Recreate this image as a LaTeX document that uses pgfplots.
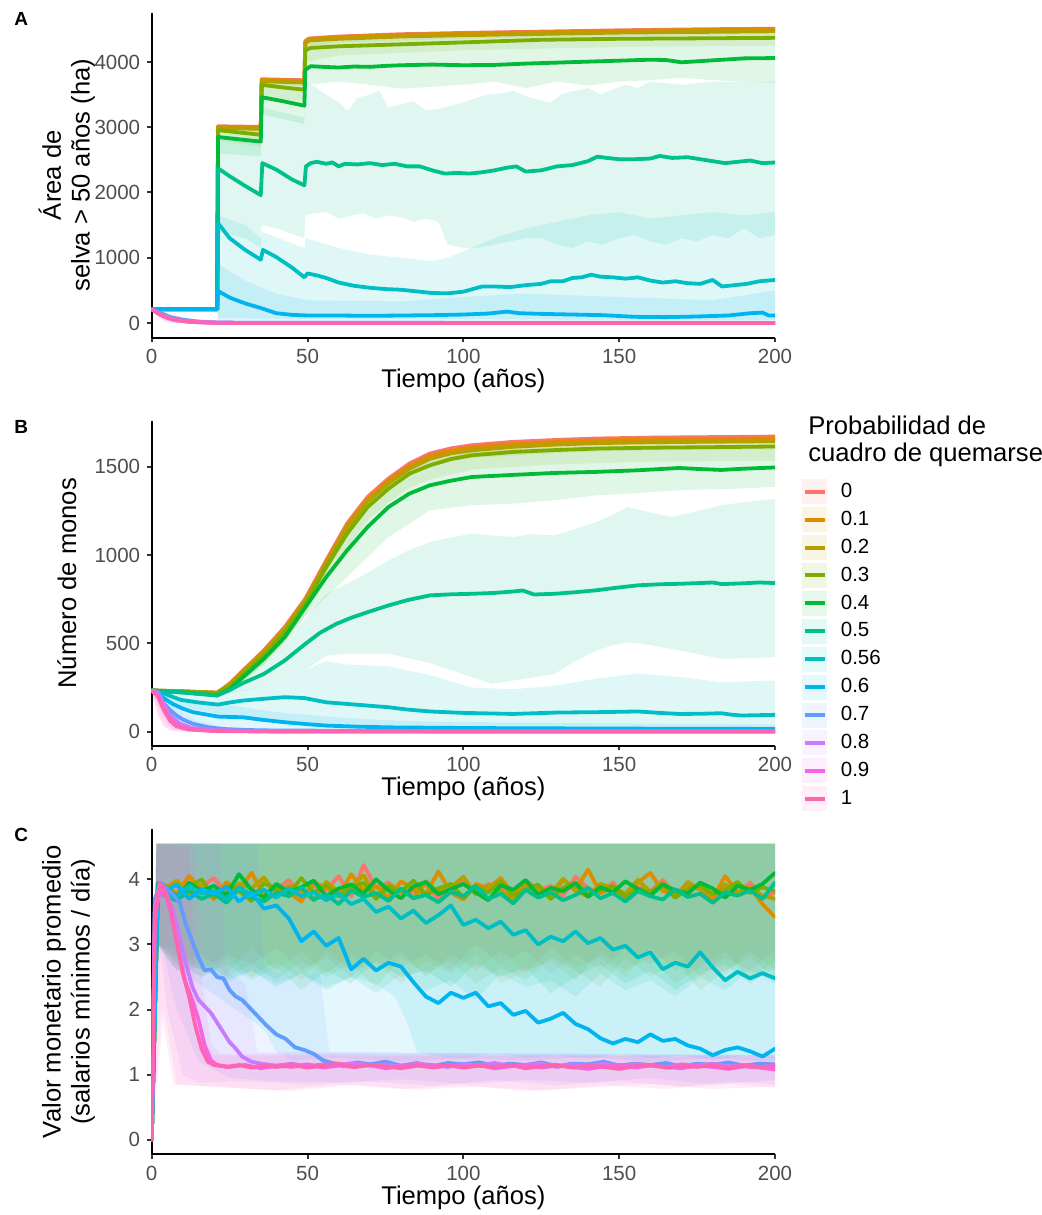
\documentclass[border=0pt]{standalone}
\usepackage{pgfplots}
\pgfplotsset{compat=1.18}
\usepackage{fontspec}
\setmainfont{Liberation Sans}
\definecolor{c0}{HTML}{F8766D}
\definecolor{c1}{HTML}{DE8C00}
\definecolor{c2}{HTML}{B79F00}
\definecolor{c3}{HTML}{7CAE00}
\definecolor{c4}{HTML}{00BA38}
\definecolor{c5}{HTML}{00C08B}
\definecolor{c6}{HTML}{00BFC4}
\definecolor{c7}{HTML}{00B4F0}
\definecolor{c8}{HTML}{619CFF}
\definecolor{c9}{HTML}{C77CFF}
\definecolor{c10}{HTML}{F564E3}
\definecolor{c11}{HTML}{FF64B0}
\definecolor{labgray}{HTML}{4D4D4D}
\definecolor{tickgray}{HTML}{333333}
\pgfplotsset{
  panel/.style={
    scale only axis, width=311.65pt, height=162.5pt, anchor=south west,
    xmin=0, xmax=200, xtick={0,50,100,150,200},
    axis x line*=bottom, axis y line*=left,
    axis line style={-, line width=1pt, black},
    tick align=outside, major tick length=2.25pt,
    every tick/.style={line width=1pt, tickgray},
    tick label style={font=\fontsize{10.25}{12}\selectfont, text=labgray},
    /pgf/number format/assume math mode=true,
    /pgf/number format/1000 sep={},
    scaled ticks=false,
    xlabel={Tiempo (años)},
    xlabel style={at={(axis description cs:0.5,0)}, anchor=center, yshift=-21.8pt, font=\fontsize{12.8}{14}\selectfont, text=black},
  },
  rib/.style={fill=#1, fill opacity=0.12, draw=none, forget plot},
  ribc/.style={fill=#1, fill opacity=0.11, draw=none, forget plot},
  ln/.style={draw=#1, line width=1.9pt, line join=round, line cap=round, forget plot, mark=none},
  legkey/.style={legend image code/.code={
    \path[draw=none, fill=none] (0pt,-6.98pt) rectangle (12.5pt,6.98pt);
    \fill[#1!10, draw=none] (0pt,-6.25pt) rectangle (12.5pt,6.25pt);
    \draw[#1, line width=2pt, fill=none] (1.2pt,0pt) -- (11.3pt,0pt);
  }},
}
\begin{document}
\begin{tikzpicture}
\useasboundingbox (0,0) rectangle (520.5pt,-607.5pt);
% ================= Panel A =================
\begin{axis}[panel, at={(75.85pt,-168.85pt)}, ymin=-225, ymax=4755, ytick={0,1000,2000,3000,4000}]
\addplot[rib=c0] coordinates {(0,222)(21,222)(21.3,3030)(35,3020)(35.3,3750)(49,3735)(49.3,4335)(60,4405)(100,4460)(150,4500)(200,4525)(200,4480)(150,4460)(100,4420)(60,4360)(49.3,4290)(49,3690)(35.3,3705)(35,2980)(21.3,2990)(21,205)(0,205)};
\addplot[rib=c1] coordinates {(0,222)(21,222)(21.3,3020)(35,3010)(35.3,3740)(49,3725)(49.3,4325)(60,4395)(100,4450)(150,4490)(200,4515)(200,4460)(150,4440)(100,4400)(60,4340)(49.3,4270)(49,3670)(35.3,3690)(35,2960)(21.3,2975)(21,205)(0,205)};
\addplot[rib=c2] coordinates {(0,222)(21,222)(21.3,3005)(35,2995)(35.3,3725)(49,3705)(49.3,4305)(60,4375)(100,4430)(150,4470)(200,4490)(200,4420)(150,4400)(100,4360)(60,4300)(49.3,4230)(49,3630)(35.3,3650)(35,2920)(21.3,2940)(21,205)(0,205)};
\addplot[rib=c3] coordinates {(0,222)(21,222)(21.3,2990)(35,2975)(35.3,3710)(49,3690)(49.3,4290)(60,4350)(100,4400)(150,4430)(200,4440)(200,4250)(150,4230)(100,4180)(60,4100)(49.3,4000)(49,3400)(35.3,3450)(35,2700)(21.3,2800)(21,200)(0,205)};
\addplot[rib=c4] coordinates {(0,222)(21,222)(21.3,2980)(35,2965)(35.3,3700)(49,3680)(49.3,4280)(60,4330)(100,4380)(150,4420)(200,4430)(200,3680)(190,3700)(180,3720)(170,3760)(160,3720)(150,3700)(140,3640)(130,3700)(120,3600)(110,3700)(100,3650)(90,3620)(80,3590)(70,3650)(60,3700)(49.3,3650)(49,3050)(35.3,3200)(35,2550)(21.3,2600)(21,200)(0,205)};
\addplot[rib=c5] coordinates {(0,222)(21,222)(21.3,2850)(35,2750)(35.3,3300)(49,3150)(49.3,3700)(53,3600)(56,3500)(60,3380)(63,3250)(66,3450)(70,3500)(73,3560)(76,3300)(80,3350)(84,3400)(88,3260)(92,3280)(96,3330)(100,3380)(104,3450)(108,3500)(112,3520)(116,3560)(120,3480)(124,3420)(128,3380)(132,3520)(136,3560)(140,3600)(144,3500)(148,3580)(152,3650)(156,3600)(160,3700)(170,3650)(180,3700)(190,3700)(200,3700)(200,1350)(195,1300)(190,1450)(185,1300)(180,1350)(175,1250)(170,1300)(165,1200)(160,1250)(155,1350)(150,1300)(145,1200)(140,1250)(135,1150)(130,1200)(125,1300)(120,1300)(115,1250)(110,1200)(105,1150)(100,1150)(95,1200)(92,1550)(88,1600)(84,1550)(80,1620)(76,1650)(72,1600)(68,1680)(64,1650)(60,1600)(56,1700)(52,1680)(49.3,1650)(49,1300)(40,1450)(35.3,1500)(35,1150)(30,1300)(21.3,1400)(21,200)(0,205)};
\addplot[rib=c6] coordinates {(0,222)(21,222)(21.3,1650)(30,1500)(35,1300)(35.3,1400)(49,1150)(49.3,1300)(60,1150)(70,1050)(80,1000)(90,950)(95,1000)(100,1100)(110,1300)(120,1450)(130,1550)(140,1650)(150,1700)(160,1600)(170,1650)(180,1700)(190,1650)(200,1700)(200,50)(150,50)(100,60)(50,60)(30,70)(21.3,80)(21,200)(0,205)};
\addplot[rib=c7] coordinates {(0,222)(21,222)(21.3,900)(30,650)(40,450)(50,350)(80,330)(100,400)(120,450)(150,400)(180,350)(200,500)(200,20)(100,25)(50,25)(21.3,30)(21,200)(0,205)};
\addplot[rib=c8] coordinates {(0,222)(3,190)(6,140)(10,90)(15,50)(20,25)(30,8)(200,4)(200,0)(30,0)(10,6)(6,25)(3,90)(0,200)};
\addplot[rib=c9] coordinates {(0,222)(3,175)(6,115)(10,65)(15,32)(20,14)(30,4)(200,2)(200,0)(30,0)(10,3)(6,15)(3,70)(0,200)};
\addplot[rib=c10] coordinates {(0,222)(2,185)(5,110)(8,60)(12,30)(18,12)(30,3)(200,1)(200,0)(30,0)(8,2)(5,12)(2,90)(0,200)};
\addplot[rib=c11] coordinates {(0,222)(2,180)(4,130)(7,75)(10,45)(15,20)(20,9)(30,2)(200,1)(200,0)(20,0)(7,5)(4,25)(2,100)(0,200)};
\addplot[ln=c0] coordinates {(0,215)(21,215)(21.3,3015)(35,3005)(35.3,3735)(49,3720)(49.3,4320)(50.5,4360)(60,4390)(80,4425)(100,4445)(125,4465)(150,4485)(175,4500)(200,4510)};
\addplot[ln=c1] coordinates {(0,212)(21,212)(21.3,3005)(35,2995)(35.3,3725)(49,3710)(49.3,4310)(50.5,4350)(60,4380)(80,4415)(100,4435)(125,4455)(150,4475)(175,4490)(200,4500)};
\addplot[ln=c2] coordinates {(0,210)(21,210)(21.3,2990)(35,2975)(35.3,3705)(49,3685)(49.3,4290)(50.5,4330)(60,4355)(80,4390)(100,4410)(125,4430)(150,4450)(175,4460)(200,4470)};
\addplot[ln=c3] coordinates {(0,210)(21,210)(21.3,2955)(28,2920)(35,2885)(35.3,3650)(42,3610)(49,3575)(49.3,4180)(51,4215)(60,4240)(70,4255)(80,4270)(100,4300)(125,4340)(150,4355)(175,4362)(200,4370)};
\addplot[ln=c4] coordinates {(0,210)(21,210)(21.3,2850)(28,2815)(35,2780)(35.3,3460)(42,3400)(49,3330)(49.3,3880)(51,3935)(55,3925)(60,3915)(65,3930)(70,3925)(75,3940)(80,3950)(90,3960)(100,3950)(110,3955)(120,3975)(130,3990)(140,4005)(150,4020)(160,4035)(165,4030)(170,3995)(175,4010)(180,4025)(185,4040)(190,4055)(200,4060)};
\addplot[ln=c5] coordinates {(0,210)(21,210)(21.3,2370)(25,2250)(30,2100)(35,1960)(35.5,2450)(40,2350)(45,2200)(49,2110)(49.5,2400)(51,2450)(53,2470)(56,2440)(58,2460)(60,2400)(62,2440)(66,2430)(70,2450)(74,2420)(78,2440)(82,2400)(86,2400)(90,2340)(94,2290)(98,2300)(102,2290)(106,2310)(110,2340)(114,2380)(117,2400)(120,2320)(125,2340)(130,2400)(135,2420)(140,2480)(143,2550)(146,2530)(150,2510)(155,2510)(160,2520)(163,2560)(167,2530)(172,2540)(176,2510)(180,2480)(184,2450)(188,2470)(192,2490)(196,2450)(200,2460)};
\addplot[ln=c6] coordinates {(0,210)(21,210)(21.3,1530)(25,1300)(30,1120)(35,970)(35.7,1120)(40,1010)(45,850)(49,700)(50,760)(53,730)(56,690)(60,620)(65,570)(70,540)(75,520)(80,510)(85,485)(90,460)(95,455)(100,480)(103,520)(106,560)(110,560)(115,550)(120,580)(125,600)(128,640)(132,640)(135,690)(138,700)(141,740)(144,710)(148,700)(152,680)(156,700)(160,650)(164,620)(168,640)(172,610)(176,600)(180,660)(183,560)(187,580)(191,600)(195,640)(200,660)};
\addplot[ln=c7] coordinates {(0,210)(21,210)(21.3,490)(25,390)(30,300)(35,230)(40,150)(45,125)(50,115)(60,115)(70,110)(80,115)(90,120)(100,130)(108,145)(114,175)(118,150)(125,140)(135,130)(145,120)(155,95)(165,90)(175,100)(185,115)(192,150)(196,160)(198,115)(200,115)};
\addplot[ln=c8] coordinates {(0,210)(3,150)(6,90)(10,50)(15,22)(20,10)(30,3)(200,0)};
\addplot[ln=c9] coordinates {(0,210)(3,130)(6,70)(10,35)(15,14)(20,5)(30,0)(200,0)};
\addplot[ln=c10] coordinates {(0,210)(2,150)(5,80)(8,40)(12,18)(18,6)(30,0)(200,0)};
\addplot[ln=c11] coordinates {(0,210)(2,150)(4,100)(7,55)(10,30)(15,12)(20,5)(30,0)(200,0)};
\end{axis}
% ================= Panel B =================
\begin{axis}[panel, at={(75.85pt,-372.85pt)}, ymin=-80, ymax=1762, ytick={0,500,1000,1500},
  legend style={at={(axis description cs:1.0438,0.8246)}, anchor=north west, draw=none, fill=none,
    inner sep=0pt, outer sep=0pt, row sep=0pt, column sep=6.8pt,
    font=\fontsize{10.25}{12}\selectfont, nodes={inner sep=0pt}},
  legend cell align=left]
\addplot[rib=c0] coordinates {(0,240)(21,230)(29.3,360)(36,478)(42.7,612)(49.3,775)(56,992)(62.7,1200)(69.3,1350)(76,1452)(82.7,1535)(89.3,1590)(102.7,1636)(130,1665)(160,1678)(200,1683)(200,1645)(160,1640)(130,1625)(102.7,1595)(89.3,1548)(82.7,1490)(76,1405)(69.3,1300)(62.7,1150)(56,940)(49.3,725)(42.7,565)(36,438)(29.3,325)(21,210)(0,226)};
\addplot[rib=c1] coordinates {(0,240)(21,228)(29.3,355)(36,470)(42.7,602)(49.3,765)(56,982)(62.7,1190)(69.3,1340)(76,1442)(82.7,1525)(89.3,1580)(102.7,1626)(130,1655)(160,1668)(200,1673)(200,1630)(160,1625)(130,1610)(102.7,1580)(89.3,1533)(82.7,1475)(76,1390)(69.3,1285)(62.7,1135)(56,925)(49.3,710)(42.7,552)(36,428)(29.3,318)(21,208)(0,226)};
\addplot[rib=c2] coordinates {(0,240)(21,226)(29.3,350)(36,462)(42.7,594)(49.3,755)(56,970)(62.7,1175)(69.3,1325)(76,1428)(82.7,1508)(89.3,1562)(102.7,1610)(130,1642)(160,1655)(200,1660)(200,1600)(160,1595)(130,1580)(102.7,1550)(89.3,1505)(82.7,1450)(76,1365)(69.3,1260)(62.7,1110)(56,905)(49.3,690)(42.7,535)(36,412)(29.3,308)(21,205)(0,226)};
\addplot[rib=c3] coordinates {(0,240)(21,228)(29.3,345)(36,455)(42.7,590)(49.3,755)(56,965)(62.7,1160)(69.3,1310)(76,1415)(82.7,1500)(89.3,1548)(102.7,1605)(130,1635)(160,1648)(200,1655)(200,1535)(160,1530)(130,1515)(102.7,1485)(89.3,1430)(82.7,1380)(76,1300)(69.3,1195)(62.7,1045)(56,860)(49.3,660)(42.7,505)(36,385)(29.3,290)(21,200)(0,226)};
\addplot[rib=c4] coordinates {(0,240)(21,225)(29.3,340)(36,450)(42.7,580)(49.3,740)(56,950)(62.7,1150)(69.3,1300)(76,1400)(82.7,1480)(89.3,1530)(102.7,1585)(130,1610)(160,1620)(200,1625)(200,1387)(185,1375)(169.3,1368)(155,1350)(142.7,1339)(129.3,1311)(116,1292)(102.7,1283)(89.3,1254)(76,1103)(62.7,876)(49.3,649)(42.7,520)(36,380)(29.3,280)(21,195)(0,226)};
\addplot[rib=c5] coordinates {(0,240)(21,222)(29.3,310)(36,400)(42.7,520)(49.3,640)(56,780)(62.7,838)(69.3,900)(76,971)(82.7,1030)(89.3,1074)(96,1100)(102.7,1122)(110,1110)(116,1103)(122,1120)(129.3,1112)(136,1150)(142.7,1188)(148,1230)(152.7,1273)(158,1250)(166.7,1216)(175,1250)(182.7,1283)(190,1300)(200,1320)(200,422)(190,415)(182.7,413)(175,440)(169.3,460)(160,490)(152.7,507)(148,490)(142.7,460)(136,400)(129.3,327)(120,300)(109.3,271)(102.7,308)(96,350)(89.3,388)(82.7,415)(76,441)(62.7,441)(56,430)(49.3,350)(36,260)(21,200)(0,226)};
\addplot[rib=c6] coordinates {(0,240)(10,225)(21,210)(36,260)(49.3,350)(56,400)(62.7,380)(76,370)(89.3,320)(102.7,250)(116,240)(129.3,260)(142.7,300)(156,330)(169.3,310)(182.7,280)(200,290)(200,25)(150,25)(100,30)(60,35)(36,60)(21,100)(10,140)(0,226)};
\addplot[rib=c7] coordinates {(0,240)(5,210)(10,185)(21,160)(40,110)(60,80)(80,60)(120,50)(200,40)(200,2)(60,3)(30,10)(15,40)(8,80)(3,170)(0,226)};
\addplot[rib=c8] coordinates {(0,240)(3,215)(6,170)(10,110)(15,60)(22,30)(40,12)(200,5)(200,0)(15,2)(8,25)(5,70)(3,120)(0,226)};
\addplot[rib=c9] coordinates {(0,240)(2,225)(4,180)(7,110)(10,60)(15,25)(25,8)(200,2)(200,0)(12,0)(7,12)(5,45)(3,100)(0,226)};
\addplot[rib=c10] coordinates {(0,240)(2,220)(4,170)(7,90)(10,45)(15,18)(25,5)(200,1)(200,0)(10,0)(7,5)(4,30)(2,100)(0,226)};
\addplot[rib=c11] coordinates {(0,240)(2,215)(4,160)(7,80)(10,40)(15,15)(25,4)(200,1)(200,0)(10,0)(6,5)(4,25)(2,90)(0,226)};
\addplot[ln=c0] coordinates {(0,233)(10,228)(21,220)(25,270)(29.3,346)(36,460)(42.7,592)(49.3,753)(56,970)(62.7,1179)(69.3,1330)(76,1434)(82.7,1519)(89.3,1576)(96,1605)(102.7,1623)(116,1642)(130,1653)(142.7,1661)(160,1666)(180,1669)(200,1672)};
\addplot[ln=c1] coordinates {(0,233)(10,228)(21,220)(25,268)(29.3,343)(36,455)(42.7,585)(49.3,745)(56,960)(62.7,1168)(69.3,1318)(76,1422)(82.7,1505)(89.3,1562)(96,1592)(102.7,1610)(116,1630)(130,1642)(142.7,1650)(160,1655)(180,1658)(200,1662)};
\addplot[ln=c2] coordinates {(0,233)(10,228)(21,220)(25,265)(29.3,338)(36,448)(42.7,578)(49.3,737)(56,950)(62.7,1155)(69.3,1305)(76,1408)(82.7,1490)(89.3,1546)(96,1577)(102.7,1594)(116,1614)(130,1627)(142.7,1635)(160,1640)(180,1643)(200,1646)};
\addplot[ln=c3] coordinates {(0,233)(10,226)(21,218)(25,255)(29.3,327)(36,432)(42.7,564)(49.3,725)(56,932)(62.7,1122)(69.3,1273)(76,1377)(82.7,1462)(89.3,1509)(96,1545)(102.7,1566)(116,1585)(130,1596)(142.7,1604)(160,1609)(180,1612)(200,1616)};
\addplot[ln=c4] coordinates {(0,233)(10,222)(21,205)(25,240)(29.3,308)(36,413)(42.7,535)(49.3,705)(56,876)(62.7,1027)(69.3,1160)(76,1273)(82.7,1349)(89.3,1396)(96,1422)(102.7,1443)(116,1455)(129.3,1466)(142.7,1472)(156,1481)(169.3,1494)(176,1488)(182.7,1483)(190,1490)(200,1497)};
\addplot[ln=c5] coordinates {(0,233)(10,222)(21,205)(25,235)(29.3,275)(36,327)(42.7,403)(49.3,497)(54,560)(59.3,611)(64,645)(69.3,677)(76,715)(82,745)(89.3,772)(96,778)(102.7,781)(110,786)(116,794)(119,800)(122.7,777)(129.3,781)(136,790)(142.7,801)(149,815)(156,829)(163,835)(170,838)(176,842)(180,845)(183,836)(189.3,840)(195,845)(200,842)};
\addplot[ln=c6] coordinates {(0,233)(4,215)(9.3,180)(15,165)(21.3,153)(25,165)(29.3,176)(36,186)(42.7,195)(49,190)(56,166)(66,152)(76,138)(82,125)(89.3,114)(100,106)(116,100)(130,108)(142.7,110)(156,114)(163,106)(169.3,100)(176,101)(182.7,104)(186,96)(189.3,91)(200,95)};
\addplot[ln=c7] coordinates {(0,233)(3,200)(6.7,157)(10,130)(13.3,110)(21.3,85)(29.3,81)(35,68)(42.7,53)(50,42)(56,34)(66,28)(76,24)(103,20)(150,17)(200,15)};
\addplot[ln=c8] coordinates {(0,233)(2,225)(4,157)(6,120)(8,91)(10,68)(13.3,44)(18,25)(22.7,15)(30,9)(40,6)(100,3)(200,2)};
\addplot[ln=c9] coordinates {(0,233)(2,215)(4,150)(6,90)(9,45)(13,20)(20,8)(40,2)(200,0)};
\addplot[ln=c10] coordinates {(0,233)(2,205)(4,130)(6,70)(8,38)(12,15)(20,5)(40,1)(200,0)};
\addplot[ln=c11] coordinates {(0,233)(2,200)(4,120)(6,60)(8,30)(12,12)(20,3)(40,0)(200,0)};
\addlegendimage{legkey=c0}\addlegendentry{0}
\addlegendimage{legkey=c1}\addlegendentry{0.1}
\addlegendimage{legkey=c2}\addlegendentry{0.2}
\addlegendimage{legkey=c3}\addlegendentry{0.3}
\addlegendimage{legkey=c4}\addlegendentry{0.4}
\addlegendimage{legkey=c5}\addlegendentry{0.5}
\addlegendimage{legkey=c6}\addlegendentry{0.56}
\addlegendimage{legkey=c7}\addlegendentry{0.6}
\addlegendimage{legkey=c8}\addlegendentry{0.7}
\addlegendimage{legkey=c9}\addlegendentry{0.8}
\addlegendimage{legkey=c10}\addlegendentry{0.9}
\addlegendimage{legkey=c11}\addlegendentry{1}
\end{axis}
% ================= Panel C =================
\begin{axis}[panel, at={(75.85pt,-577.1pt)}, ymin=-0.22, ymax=4.77, ytick={0,1,2,3,4}]
\addplot[ribc=c0] coordinates {(0,0)(1.5,4.55)(200,4.55)(200,2.9)(192,2.6)(184,2.8)(176,2.5)(168,2.9)(160,2.7)(152,2.95)(144,2.6)(136,2.85)(128,2.55)(120,2.9)(112,2.7)(104,3.0)(96,2.6)(88,2.85)(80,2.65)(72,2.9)(64,2.5)(56,2.8)(48,2.6)(40,2.95)(32,2.7)(24,2.85)(16,2.6)(8,2.9)(2,3.0)(0,0)};
\addplot[ribc=c1] coordinates {(0,0)(1.5,4.55)(200,4.55)(200,2.6)(192,2.9)(184,2.55)(176,2.85)(168,2.6)(160,2.95)(152,2.5)(144,2.8)(136,2.65)(128,2.95)(120,2.55)(112,2.9)(104,2.6)(96,2.85)(88,2.5)(80,2.9)(72,2.6)(64,2.85)(56,2.55)(48,2.9)(40,2.6)(32,2.95)(24,2.55)(16,2.85)(8,2.7)(2,3.0)(0,0)};
\addplot[ribc=c2] coordinates {(0,0)(1.5,4.55)(200,4.55)(200,2.75)(192,2.45)(184,2.9)(176,2.65)(168,2.4)(160,2.8)(152,2.6)(144,2.9)(136,2.45)(128,2.75)(120,2.6)(112,2.4)(104,2.85)(96,2.55)(88,2.75)(80,2.4)(72,2.7)(64,2.6)(56,2.9)(48,2.45)(40,2.75)(32,2.5)(24,2.8)(16,2.5)(8,2.8)(2,3.0)(0,0)};
\addplot[ribc=c3] coordinates {(0,0)(1.5,4.55)(200,4.55)(200,2.5)(192,2.8)(184,2.6)(176,2.3)(168,2.75)(160,2.5)(152,2.8)(144,2.35)(136,2.6)(128,2.8)(120,2.45)(112,2.65)(104,2.4)(96,2.75)(88,2.55)(80,2.8)(72,2.35)(64,2.7)(56,2.5)(48,2.75)(40,2.45)(32,2.7)(24,2.5)(16,2.75)(8,2.6)(2,3.0)(0,0)};
\addplot[ribc=c4] coordinates {(0,0)(1.5,4.55)(200,4.55)(200,2.65)(192,2.4)(184,2.7)(176,2.55)(168,2.3)(160,2.6)(152,2.4)(144,2.7)(136,2.5)(128,2.25)(120,2.65)(112,2.5)(104,2.7)(96,2.35)(88,2.6)(80,2.5)(72,2.75)(64,2.4)(56,2.6)(48,2.3)(40,2.65)(32,2.45)(24,2.7)(16,2.5)(8,2.7)(2,3.0)(0,0)};
\addplot[ribc=c5] coordinates {(0,0)(1.5,4.55)(200,4.55)(200,2.4)(192,2.6)(184,2.3)(176,2.5)(168,2.2)(160,2.45)(152,2.3)(144,2.55)(136,2.2)(128,2.45)(120,2.35)(112,2.55)(104,2.15)(96,2.45)(88,2.3)(80,2.55)(72,2.25)(64,2.5)(56,2.3)(48,2.55)(40,2.35)(32,2.6)(24,2.4)(16,2.65)(8,2.6)(2,3.0)(0,0)};
\addplot[ribc=c6] coordinates {(0,0)(1.5,4.55)(200,4.55)(200,1.25)(190,1.3)(180,1.22)(170,1.3)(160,1.25)(150,1.32)(140,1.24)(130,1.3)(120,1.26)(110,1.33)(100,1.25)(90,1.3)(85,1.35)(82,1.8)(78,2.2)(72,2.4)(64,2.5)(56,2.35)(48,2.55)(40,2.4)(32,2.6)(24,2.45)(16,2.6)(8,2.8)(2,3.0)(0,0)};
\addplot[ribc=c7] coordinates {(0,0)(1.5,4.55)(200,4.55)(200,1.2)(180,1.25)(160,1.2)(140,1.27)(120,1.22)(100,1.25)(80,1.2)(60,1.26)(45,1.22)(40,1.35)(36,1.7)(30,1.9)(24,2.1)(18,2.3)(12,2.5)(6,2.7)(2,3.0)(0,0)};
\addplot[ribc=c8] coordinates {(0,0)(1.5,4.55)(34,4.55)(36,2.65)(45,2.5)(54,2.55)(57,1.35)(200,1.3)(200,0.92)(180,0.85)(160,0.95)(140,0.88)(120,0.92)(100,0.86)(80,0.93)(60,0.88)(40,0.9)(25,0.95)(15,1.2)(8,2.0)(3,3.0)(0,0)};
\addplot[ribc=c9] coordinates {(0,0)(1.5,4.55)(22,4.55)(24,2.6)(30,2.4)(34,1.35)(200,1.3)(200,0.85)(185,0.9)(170,0.82)(150,0.9)(130,0.84)(110,0.92)(90,0.83)(70,0.9)(50,0.85)(30,0.9)(15,0.88)(10,1.0)(5,2.0)(2,3.2)(0,0)};
\addplot[ribc=c10] coordinates {(0,0)(1.5,4.55)(14,4.5)(16,2.5)(19,1.5)(22,1.32)(200,1.3)(200,0.82)(180,0.78)(160,0.86)(140,0.8)(120,0.75)(100,0.84)(80,0.78)(60,0.85)(40,0.76)(20,0.82)(8,0.85)(4,2.0)(0,0)};
\addplot[ribc=c11] coordinates {(0,0)(1.5,4.55)(12,4.5)(14,2.3)(17,1.5)(20,1.3)(200,1.28)(200,0.8)(185,0.86)(165,0.78)(145,0.84)(125,0.76)(105,0.82)(85,0.77)(65,0.85)(45,0.75)(25,0.8)(7,0.85)(3,2.0)(0,0)};
\addplot[ln=c0] coordinates {(0,0)(2,3.95)(4,3.80)(8,3.95)(12,3.72)(16,3.90)(20,4.02)(24,3.78)(28,3.88)(32,3.70)(36,3.95)(40,3.84)(44,3.99)(48,3.76)(52,3.90)(56,3.83)(60,4.05)(64,3.74)(68,4.22)(72,3.87)(76,3.95)(80,3.79)(84,3.81)(88,3.92)(92,3.70)(96,3.88)(100,4.00)(104,3.77)(108,3.93)(112,3.85)(116,3.72)(120,3.98)(124,3.83)(128,3.90)(132,3.75)(136,4.04)(140,3.86)(144,3.79)(148,3.95)(152,3.70)(156,3.88)(160,3.82)(164,3.99)(168,3.76)(172,3.91)(176,3.84)(180,3.68)(184,3.90)(188,3.78)(192,3.95)(196,3.72)(200,3.80)};
\addplot[ln=c1] coordinates {(0,0)(2,3.90)(4,3.90)(8,3.78)(12,4.05)(16,3.85)(20,3.70)(24,3.96)(28,3.82)(32,4.10)(36,3.75)(40,3.92)(44,3.80)(48,3.66)(52,3.95)(56,3.87)(60,3.74)(64,4.08)(68,3.83)(72,3.90)(76,3.72)(80,3.97)(84,3.85)(88,3.78)(92,4.12)(96,3.80)(100,3.69)(104,3.93)(108,3.86)(112,4.02)(116,3.77)(120,3.90)(124,3.81)(128,3.73)(132,3.99)(136,3.84)(140,4.15)(144,3.79)(148,3.88)(152,3.70)(156,3.95)(160,4.10)(164,3.82)(168,3.76)(172,3.93)(176,3.85)(180,3.70)(184,4.05)(188,3.80)(192,3.88)(196,3.62)(200,3.42)};
\addplot[ln=c2] coordinates {(0,0)(2,3.88)(4,3.85)(8,3.98)(12,3.76)(16,3.92)(20,3.80)(24,3.70)(28,3.94)(32,3.86)(36,4.03)(40,3.78)(44,3.90)(48,3.83)(52,3.68)(56,3.96)(60,3.81)(64,3.89)(68,4.06)(72,3.75)(76,3.92)(80,3.84)(84,3.71)(88,3.97)(92,3.80)(96,3.88)(100,4.04)(104,3.77)(108,3.91)(112,3.83)(116,3.69)(120,3.95)(124,3.86)(128,3.79)(132,4.01)(136,3.82)(140,3.74)(144,3.93)(148,3.87)(152,3.78)(156,3.99)(160,3.81)(164,3.90)(168,3.72)(172,3.96)(176,3.84)(180,3.78)(184,3.92)(188,3.80)(192,3.86)(196,3.75)(200,3.70)};
\addplot[ln=c3] coordinates {(0,0)(2,3.86)(4,3.92)(8,3.75)(12,3.88)(16,4.00)(20,3.73)(24,3.90)(28,3.82)(32,3.67)(36,3.94)(40,3.86)(44,3.78)(48,4.02)(52,3.80)(56,3.91)(60,3.74)(64,3.87)(68,3.95)(72,3.70)(76,3.89)(80,3.81)(84,3.98)(88,3.76)(92,3.86)(96,3.93)(100,3.72)(104,3.88)(108,3.80)(112,3.97)(116,3.75)(120,3.84)(124,3.92)(128,3.70)(132,3.87)(136,3.95)(140,3.78)(144,3.83)(148,3.90)(152,3.74)(156,3.86)(160,3.80)(164,3.94)(168,3.72)(172,3.85)(176,3.91)(180,3.77)(184,3.83)(188,3.96)(192,3.79)(196,3.88)(200,3.82)};
\addplot[ln=c4] coordinates {(0,0)(2,3.92)(4,3.86)(8,3.70)(12,3.95)(16,3.82)(20,3.90)(24,3.76)(28,4.08)(32,3.84)(36,3.72)(40,3.93)(44,3.80)(48,3.88)(52,3.98)(56,3.74)(60,3.86)(64,3.92)(68,3.78)(72,4.00)(76,3.83)(80,3.71)(84,3.89)(88,3.96)(92,3.77)(96,3.85)(100,3.93)(104,3.80)(108,3.68)(112,3.91)(116,3.84)(120,3.99)(124,3.76)(128,3.87)(132,3.82)(136,3.94)(140,3.73)(144,3.88)(148,3.80)(152,3.97)(156,3.85)(160,3.75)(164,3.92)(168,3.83)(172,3.78)(176,3.95)(180,3.86)(184,3.72)(188,3.90)(192,3.84)(196,3.93)(200,4.10)};
\addplot[ln=c5] coordinates {(0,0)(2,3.95)(4,3.75)(8,3.68)(12,3.82)(16,3.70)(20,3.78)(24,3.64)(28,3.85)(32,3.72)(36,3.66)(40,3.80)(44,3.74)(48,3.88)(52,3.69)(56,3.77)(60,3.62)(64,3.83)(68,3.73)(72,3.79)(76,3.67)(80,3.86)(84,3.71)(88,3.76)(92,3.65)(96,3.81)(100,3.74)(104,3.90)(108,3.70)(112,3.78)(116,3.63)(120,3.84)(124,3.72)(128,3.80)(132,3.68)(136,3.76)(140,3.87)(144,3.71)(148,3.79)(152,3.66)(156,3.82)(160,3.74)(164,3.69)(168,3.85)(172,3.73)(176,3.78)(180,3.64)(184,3.80)(188,3.75)(192,3.83)(196,3.70)(200,3.95)};
\addplot[ln=c6] coordinates {(0,0)(2,3.90)(4,3.85)(8,3.75)(12,3.90)(16,3.78)(20,3.82)(24,3.70)(28,3.88)(32,3.76)(36,3.84)(40,3.72)(44,3.86)(48,3.74)(52,3.80)(56,3.68)(60,3.78)(64,3.62)(68,3.70)(72,3.50)(76,3.58)(80,3.40)(84,3.52)(88,3.33)(92,3.45)(96,3.60)(100,3.30)(104,3.38)(108,3.25)(112,3.35)(116,3.15)(120,3.22)(124,3.00)(128,3.12)(132,3.05)(136,3.20)(140,3.02)(144,3.10)(148,2.92)(152,2.98)(156,2.80)(160,2.88)(164,2.62)(168,2.72)(172,2.66)(176,2.88)(180,2.65)(184,2.45)(188,2.58)(192,2.48)(196,2.56)(200,2.48)};
\addplot[ln=c7] coordinates {(0,0)(2,3.85)(4,3.80)(8,3.92)(12,3.70)(16,3.85)(20,3.78)(24,3.88)(28,3.66)(32,3.80)(36,3.55)(40,3.60)(44,3.40)(48,3.05)(52,3.20)(56,2.98)(60,3.10)(64,2.62)(68,2.78)(72,2.60)(76,2.72)(80,2.66)(84,2.42)(88,2.20)(92,2.10)(96,2.26)(100,2.18)(104,2.26)(108,2.05)(112,2.10)(116,1.92)(120,1.98)(124,1.80)(128,1.86)(132,1.95)(136,1.78)(140,1.70)(144,1.56)(148,1.48)(152,1.55)(156,1.50)(160,1.62)(164,1.52)(168,1.55)(172,1.45)(176,1.40)(180,1.30)(184,1.38)(188,1.42)(192,1.36)(196,1.28)(200,1.40)};
\addplot[ln=c8] coordinates {(0,0)(1,3.7)(3,3.95)(6,3.80)(9,3.65)(11,3.30)(13,3.05)(15,2.80)(17,2.60)(19,2.62)(21,2.50)(23,2.48)(25,2.30)(27,2.20)(29,2.15)(31,2.05)(34,1.90)(37,1.75)(40,1.62)(43,1.55)(46,1.42)(49,1.38)(52,1.32)(55,1.22)(58,1.18)(62,1.15)(66,1.19)(70,1.16)(75,1.20)(80,1.14)(85,1.18)(90,1.13)(95,1.18)(100,1.16)(105,1.19)(110,1.14)(115,1.17)(120,1.15)(125,1.19)(130,1.13)(135,1.17)(140,1.16)(145,1.20)(150,1.14)(155,1.17)(160,1.15)(165,1.18)(170,1.13)(175,1.17)(180,1.15)(185,1.19)(190,1.14)(195,1.17)(200,1.16)};
\addplot[ln=c9] coordinates {(0,0)(1,3.6)(3,3.9)(5,3.75)(7,3.50)(9,3.10)(11,2.70)(13,2.35)(15,2.15)(17,2.05)(19,1.95)(21,1.80)(23,1.65)(25,1.50)(27,1.40)(29,1.28)(32,1.20)(35,1.17)(40,1.14)(45,1.17)(50,1.13)(55,1.16)(60,1.15)(65,1.18)(70,1.14)(75,1.16)(80,1.13)(85,1.17)(90,1.15)(95,1.12)(100,1.16)(105,1.14)(110,1.18)(115,1.13)(120,1.15)(125,1.17)(130,1.12)(135,1.16)(140,1.14)(145,1.17)(150,1.13)(155,1.16)(160,1.15)(165,1.12)(170,1.16)(175,1.14)(180,1.17)(185,1.13)(190,1.15)(195,1.12)(200,1.14)};
\addplot[ln=c10] coordinates {(0,0)(1,3.5)(3,3.85)(5,3.70)(7,3.30)(9,2.80)(11,2.40)(13,2.15)(15,1.85)(17,1.45)(19,1.22)(21,1.15)(25,1.12)(30,1.15)(35,1.10)(40,1.14)(45,1.12)(50,1.16)(55,1.11)(60,1.14)(65,1.12)(70,1.15)(75,1.10)(80,1.13)(85,1.16)(90,1.11)(95,1.14)(100,1.12)(105,1.15)(110,1.10)(115,1.13)(120,1.15)(125,1.11)(130,1.14)(135,1.12)(140,1.09)(145,1.13)(150,1.15)(155,1.11)(160,1.14)(165,1.12)(170,1.10)(175,1.14)(180,1.12)(185,1.09)(190,1.13)(195,1.11)(200,1.08)};
\addplot[ln=c11] coordinates {(0,0)(1,3.3)(2.5,3.95)(4,3.85)(6,3.55)(8,3.05)(10,2.55)(12,2.20)(14,1.75)(16,1.40)(18,1.20)(20,1.15)(24,1.12)(28,1.15)(32,1.11)(36,1.14)(40,1.12)(45,1.15)(50,1.11)(55,1.14)(60,1.17)(65,1.12)(70,1.15)(75,1.13)(80,1.10)(85,1.14)(90,1.12)(95,1.15)(100,1.11)(105,1.14)(110,1.12)(115,1.15)(120,1.10)(125,1.13)(130,1.15)(135,1.11)(140,1.14)(145,1.12)(150,1.09)(155,1.13)(160,1.15)(165,1.11)(170,1.14)(175,1.12)(180,1.15)(185,1.11)(190,1.14)(195,1.12)(200,1.13)};
\end{axis}
% ================= Labels =================
\begin{scope}[every node/.style={font=\fontsize{12.8}{14}\selectfont}]
\node[rotate=90, anchor=base] at (30.5pt,-87.6pt) {Área de};
\node[rotate=90, anchor=base] at (44.75pt,-87.6pt) {selva > 50 años (ha)};
\node[rotate=90, anchor=base] at (38pt,-291.6pt) {Número de monos};
\node[rotate=90, anchor=base] at (30.25pt,-495.85pt) {Valor monetario promedio};
\node[rotate=90, anchor=base] at (44.75pt,-495.85pt) {(salarios mínimos / día)};
\node[anchor=base west] at (400.6pt,-217.15pt) {Probabilidad de};
\node[anchor=base west] at (400.6pt,-230.85pt) {cuadro de quemarse};
\end{scope}
\begin{scope}[every node/.style={font=\bfseries\fontsize{9.5}{11}\selectfont, anchor=center}]
\node at (10.65pt,-9.25pt) {A};
\node at (10.65pt,-213.35pt) {B};
\node at (10.65pt,-417.6pt) {C};
\end{scope}
\end{tikzpicture}
\end{document}
